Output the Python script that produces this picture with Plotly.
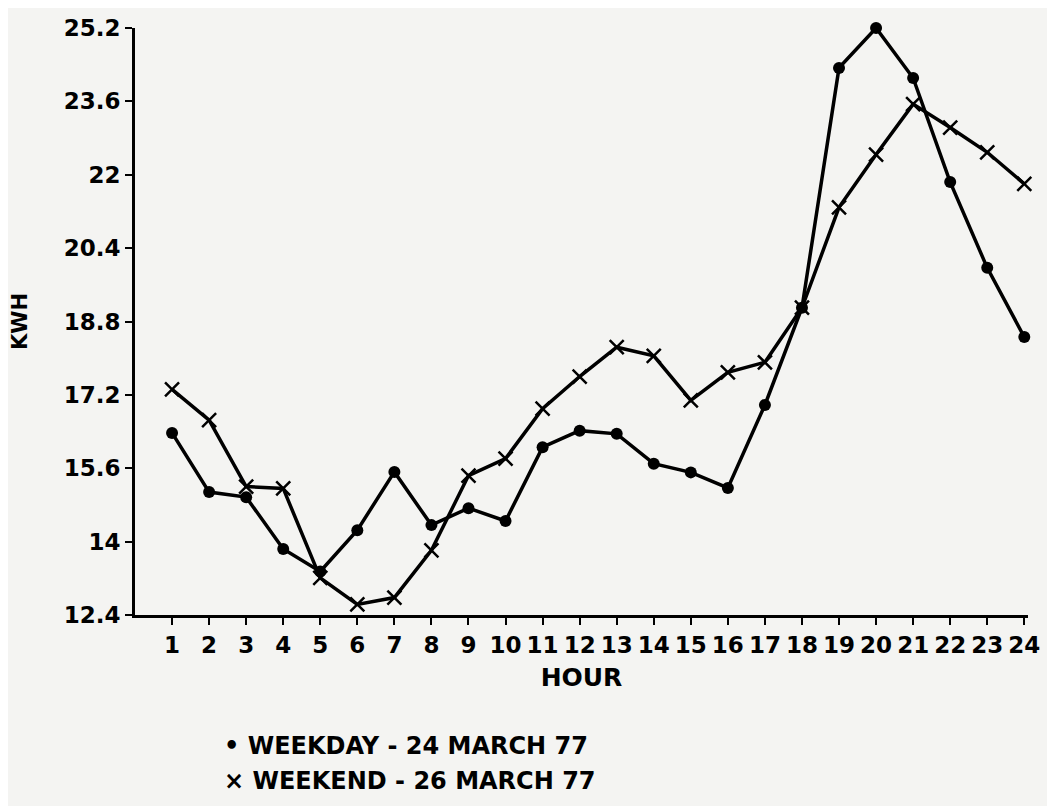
import plotly.graph_objects as go

# Hourly kWh
hours = list(range(1, 25))
weekday_kwh = [16.37, 15.08, 14.97, 13.84, 13.35, 14.25, 15.52, 14.36, 14.73, 14.45,
               16.06, 16.42, 16.35, 15.70, 15.51, 15.17, 16.98, 19.10, 24.33, 25.20,
               24.11, 21.84, 19.97, 18.46]
weekend_kwh = [17.32, 16.65, 15.20, 15.16, 13.21, 12.63, 12.78, 13.81, 15.44, 15.81,
               16.90, 17.60, 18.24, 18.05, 17.08, 17.69, 17.91, 19.10, 21.29, 22.44,
               23.54, 23.03, 22.49, 21.80]
y_ticks = [12.4, 14, 15.6, 17.2, 18.8, 20.4, 22, 23.6, 25.2]
y_tick_labels = ["12.4", "14", "15.6", "17.2", "18.8", "20.4", "22", "23.6", "25.2"]

FONT = "DejaVu Sans"
BG = "#f4f4f2"

fig = go.Figure()
fig.add_trace(go.Scatter(
    x=hours, y=weekday_kwh, mode="lines+markers", name="WEEKDAY - 24 MARCH 77",
    line=dict(color="black", width=3.5),
    marker=dict(symbol="circle", size=12, color="black"),
    cliponaxis=False,
))
fig.add_trace(go.Scatter(
    x=hours, y=weekend_kwh, mode="lines+markers", name="WEEKEND - 26 MARCH 77",
    line=dict(color="black", width=3.5),
    marker=dict(symbol="x-thin", size=14, line=dict(color="black", width=2.5)),
    cliponaxis=False,
))

# page body adds an 8px offset, margins are set to compensate
fig.update_layout(
    width=1055, height=806,
    paper_bgcolor=BG, plot_bgcolor=BG,
    margin=dict(l=127, r=35, t=20, b=199),
    showlegend=False,
    font=dict(family=FONT, color="black"),
)
fig.update_xaxes(
    range=[0, 24.1], tickvals=hours, ticktext=[str(h) for h in hours],
    ticks="outside", ticklen=7, tickwidth=2, tickcolor="black",
    showline=True, linecolor="black", linewidth=3,
    showgrid=False, zeroline=False, automargin=False,
    tickfont=dict(size=23, family=FONT, weight="bold"),
    title=dict(text="HOUR", font=dict(size=25, family=FONT, weight="bold"), standoff=12),
)
fig.update_yaxes(
    range=[12.4, 25.2], tickvals=y_ticks, ticktext=y_tick_labels,
    ticks="outside", ticklen=7, tickwidth=2, tickcolor="black",
    showline=True, linecolor="black", linewidth=3,
    showgrid=False, zeroline=False, automargin=False,
    tickfont=dict(size=23, family=FONT, weight="bold"),
    title=dict(text="KWH", font=dict(size=21, family=FONT, weight="bold"), standoff=34),
)

# legend lines written below the chart, as in the original
legend_lines = ["\u2022 WEEKDAY - 24 MARCH 77", "\u00d7 WEEKEND - 26 MARCH 77"]
for i, txt in enumerate(legend_lines):
    fig.add_annotation(
        text=txt, xref="paper", yref="paper", x=0.097, y=-0.223 - i * 0.06,
        xanchor="left", yanchor="middle", showarrow=False,
        font=dict(size=24, family=FONT, weight="bold", color="black"),
    )

fig.write_html("out.html")
